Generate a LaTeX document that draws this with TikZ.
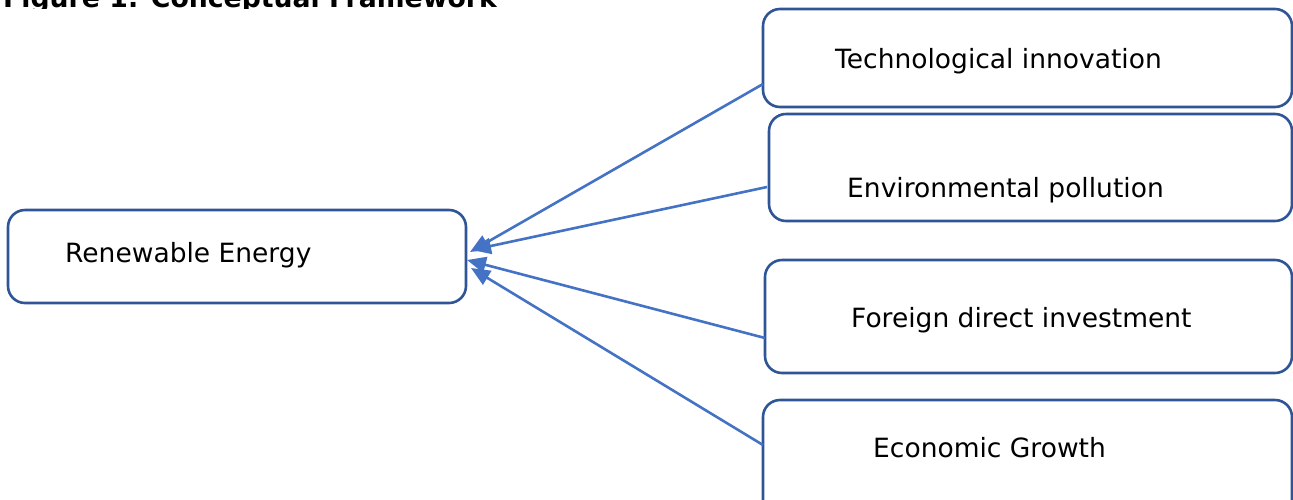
\documentclass[tikz,border=0pt]{standalone}
\usepackage{fontspec}
\setmainfont{DejaVu Sans}
\usetikzlibrary{arrows.meta}
\definecolor{boxblue}{HTML}{2F5597}
\definecolor{arrowblue}{HTML}{4472C4}
\tikzset{
  varbox/.style={draw=boxblue, line width=2.6pt, rounded corners=17pt, fill=white, inner sep=0pt},
  lbl/.style={anchor=base west, inner sep=0pt, font=\fontsize{26.5}{30}\selectfont, text=black},
  link/.style={draw=arrowblue, line width=2.6pt, -{Triangle[length=19pt,width=16pt]}}
}
\begin{document}
\begin{tikzpicture}[x=1pt,y=-1pt]
\useasboundingbox (0,0) rectangle (1293,499);
\begin{scope}
\clip (0,0) rectangle (600,8);
\node[anchor=base west, inner sep=0pt, font=\fontsize{26.7}{30}\selectfont\bfseries] (title) at (3,7) {Figure 1: Conceptual Framework};
\end{scope}
% boxes
\draw[varbox] (8,210) rectangle (466,303);
\node[lbl] (reT) at (65,262) {Renewable Energy};
\draw[varbox] (763,9) rectangle (1292,107);
\node[lbl] (tiT) at (835,68) {Technological innovation};
\draw[varbox] (769,114) rectangle (1292,221);
\node[lbl] (epT) at (847,197) {Environmental pollution};
\draw[varbox] (765,260) rectangle (1292,373);
\node[lbl] (fdT) at (851,327) {Foreign direct investment};
\draw[varbox] (763,400) rectangle (1292,520);
\node[lbl] (egT) at (873,457) {Economic Growth};
% connector endpoints
\coordinate (ti) at (763,84);
\coordinate (ep) at (767,187);
\coordinate (fd) at (765,338);
\coordinate (eg) at (763,445);
\coordinate (t1) at (470,252);
\coordinate (t2) at (472,250);
\coordinate (t3) at (467,260);
\coordinate (t4) at (471,268);
\draw[link] (ti) -- (t1);
\draw[link] (ep) -- (t2);
\draw[link] (fd) -- (t3);
\draw[link] (eg) -- (t4);
\end{tikzpicture}
\end{document}
